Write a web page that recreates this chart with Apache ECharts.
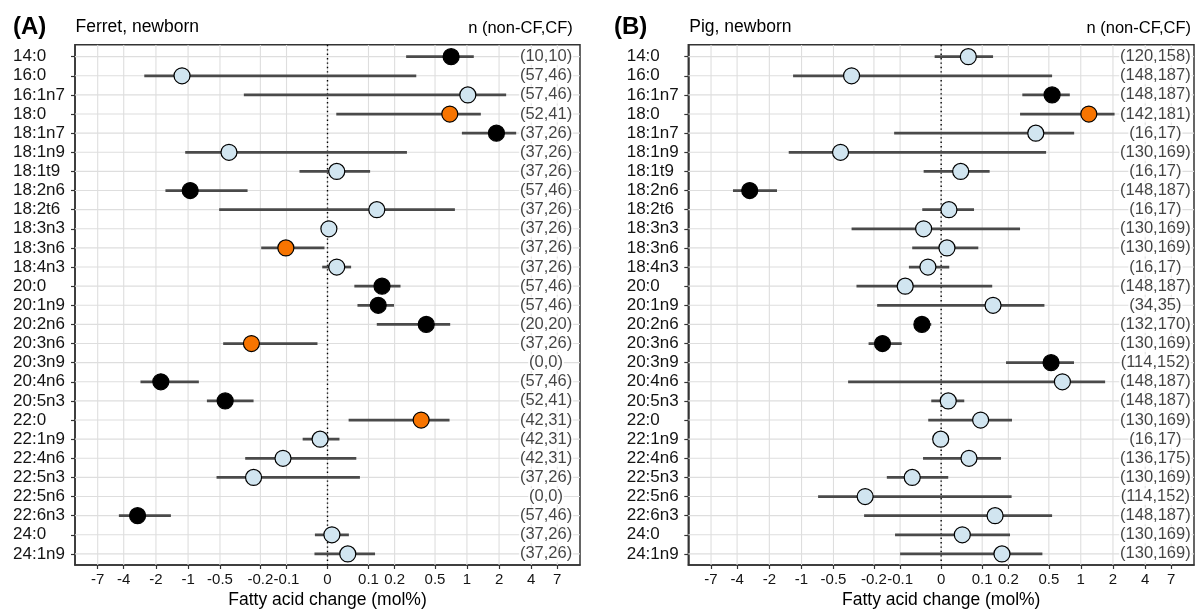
<!DOCTYPE html>
<html><head><meta charset="utf-8">
<script src="https://cdn.jsdelivr.net/npm/echarts@6/dist/echarts.min.js"></script>
<style>html,body{margin:0;padding:0;background:#fff}#c{width:1195px;height:609px}</style>
</head><body><div id="c"></div>
<script>
// ---------- data ----------
const categories = ['14:0','16:0','16:1n7','18:0','18:1n7','18:1n9','18:1t9','18:2n6','18:2t6','18:3n3','18:3n6','18:4n3','20:0','20:1n9','20:2n6','20:3n6','20:3n9','20:4n6','20:5n3','22:0','22:1n9','22:4n6','22:5n3','22:5n6','22:6n3','24:0','24:1n9'];
const tickLabels = [-7,-4,-2,-1,-0.5,-0.2,-0.1,0,0.1,0.2,0.5,1,2,4,7];

const ferretMean = [0.71,-1.14,1.02,0.69,1.89,-0.41,0.020,-0.955,0.127,0.003,-0.102,0.020,0.146,0.132,0.412,-0.247,null,-1.80,-0.446,0.368,-0.016,-0.111,-0.235,null,-2.97,0.0095,0.045];
const ferretLow  = [0.262,-2.57,-0.294,0.019,0.897,-1.064,-0.064,-1.63,-0.509,0.0,-0.196,-0.0114,0.061,0.069,0.127,-0.466,null,-2.79,-0.665,0.047,-0.056,-0.285,-0.539,null,-4.44,-0.0274,-0.0284];
const ferretHigh = [1.16,0.330,2.33,1.35,2.89,0.267,0.105,-0.270,0.771,0.006,-0.0065,0.053,0.230,0.197,0.696,-0.0217,null,-0.792,-0.235,0.686,0.026,0.066,0.0755,null,-1.449,0.0476,0.121];
const ferretGroup = ['k','b','b','o','k','b','b','k','b','b','o','b','k','k','k','o',null,'k','k','o','b','b','b',null,'k','b','b'];
const ferretN = ['(10,10)','(57,46)','(57,46)','(52,41)','(37,26)','(37,26)','(37,26)','(57,46)','(37,26)','(37,26)','(37,26)','(37,26)','(57,46)','(57,46)','(20,20)','(37,26)','(0,0)','(57,46)','(52,41)','(42,31)','(42,31)','(42,31)','(37,26)','(0,0)','(57,46)','(37,26)','(37,26)'];

const pigMean = [0.0617,-0.335,0.537,1.19,0.375,-0.428,0.0432,-3.05,0.0168,-0.0385,0.0125,-0.0288,-0.0851,0.136,-0.0425,-0.162,0.525,0.672,0.0153,0.0953,-0.001,0.0634,-0.0662,-0.246,0.1435,0.047,0.171];
const pigLow  = [-0.014,-1.20,0.277,0.263,-0.119,-1.318,-0.0385,-4.37,-0.0417,-0.335,-0.0662,-0.0749,-0.30,-0.185,-0.0619,-0.227,0.189,-0.362,-0.0214,-0.0281,-0.0149,-0.0399,-0.145,-0.699,-0.252,-0.116,-0.100];
const pigHigh = [0.136,0.537,0.789,2.07,0.867,0.471,0.124,-1.696,0.0766,0.263,0.0885,0.0175,0.133,0.454,-0.0214,-0.0953,0.864,1.69,0.0517,0.218,0.0131,0.167,0.0153,0.216,0.537,0.208,0.434];
const pigGroup = ['b','b','k','o','b','b','b','k','b','b','b','b','b','b','k','k','k','b','b','b','b','b','b','b','b','b','b'];
const pigN = ['(120,158)','(148,187)','(148,187)','(142,181)','(16,17)','(130,169)','(16,17)','(148,187)','(16,17)','(130,169)','(130,169)','(16,17)','(148,187)','(34,35)','(132,170)','(130,169)','(114,152)','(148,187)','(148,187)','(130,169)','(16,17)','(136,175)','(130,169)','(114,152)','(148,187)','(130,169)','(130,169)'];

// ---------- style / layout ----------
const FONT = "'Liberation Sans', Arial, Helvetica, sans-serif";
const TXT = '#141414';
const GRIDC = '#dedede';
const groupColor = {k:'#000000', o:'#F77400', b:'#D1E5F0'};
const tr = v => Math.asinh(v * 10);   // pseudo-log (asinh) axis transform
const XLIM = 5.43;

const panels = [
  {mean:ferretMean, low:ferretLow, high:ferretHigh, group:ferretGroup, n:ferretN, left:75, width:505, labelX:4.70, margin:62},
  {mean:pigMean, low:pigLow, high:pigHigh, group:pigGroup, n:pigN, left:688.3, width:505.7, labelX:4.60, margin:61.6}
];

const grids = [], xAxes = [], yAxes = [], series = [];
const tickVals = tickLabels.map(tr);
const catIdx = categories.map((c,i)=>i);
const fmtTick = v => {
  for (let i = 0; i < tickVals.length; i++) if (Math.abs(tickVals[i] - v) < 1e-6) return String(tickLabels[i]);
  return '';
};

panels.forEach((p, gi) => {
  grids.push({left:p.left, width:p.width, top:44.8, height:520.2, show:true, borderColor:'#333', borderWidth:1.5, backgroundColor:'#fff', containLabel:false});
  xAxes.push({
    type:'value', gridIndex:gi, min:-XLIM, max:XLIM,
    axisLine:{show:true, onZero:false, lineStyle:{color:'#333', width:1.5}},
    axisTick:{show:true, length:4, customValues:tickVals, lineStyle:{color:'#333', width:1.2}},
    axisLabel:{show:true, customValues:tickVals, formatter:fmtTick, margin:7, fontSize:15, color:TXT, fontFamily:FONT},
    splitLine:{show:false}
  });
  yAxes.push({
    type:'value', gridIndex:gi, min:-0.62, max:categories.length - 0.42, inverse:true,
    axisLine:{show:true, onZero:false, lineStyle:{color:'#333', width:1.5}},
    axisTick:{show:true, length:4, customValues:catIdx, lineStyle:{color:'#333', width:1.2}},
    axisLabel:{show:true, customValues:catIdx, formatter:v => categories[Math.round(v)] || '', align:'left', margin:p.margin, fontSize:17, color:TXT, fontFamily:FONT},
    splitLine:{show:false}
  });
  // vertical grid lines at ticks
  series.push({
    type:'custom', xAxisIndex:gi, yAxisIndex:gi, silent:true, z:1, clip:true,
    encode:{x:0},
    data: tickVals.map(v => [v]),
    renderItem:(params, api) => {
      const cs = params.coordSys;
      const x = api.coord([api.value(0), 0])[0];
      return {type:'line', shape:{x1:x, y1:cs.y, x2:x, y2:cs.y + cs.height}, style:{stroke:GRIDC, lineWidth:1.1}};
    }
  });
  // horizontal grid lines at categories
  series.push({
    type:'custom', xAxisIndex:gi, yAxisIndex:gi, silent:true, z:1, clip:true,
    encode:{y:0},
    data: catIdx.map(i => [i]),
    renderItem:(params, api) => {
      const cs = params.coordSys;
      const y = api.coord([0, api.value(0)])[1];
      return {type:'line', shape:{x1:cs.x, y1:y, x2:cs.x + cs.width, y2:y}, style:{stroke:GRIDC, lineWidth:1.1}};
    }
  });
  // n labels
  series.push({
    type:'scatter', xAxisIndex:gi, yAxisIndex:gi, symbolSize:0, silent:true, z:3,
    data: p.n.map((t,i) => [p.labelX, i, t]),
    label:{show:true, position:'inside', formatter:q => q.data[2], fontSize:16.5, color:TXT, fontFamily:FONT, backgroundColor:'#fff', padding:[0,1]}
  });
  // zero reference line (dotted)
  series.push({
    type:'custom', xAxisIndex:gi, yAxisIndex:gi, silent:true, z:4,
    encode:{x:0},
    data:[[0]],
    renderItem:(params, api) => {
      const cs = params.coordSys;
      const x = api.coord([api.value(0), 0])[0];
      return {type:'line', shape:{x1:x, y1:cs.y, x2:x, y2:cs.y + cs.height}, style:{stroke:'#000', lineWidth:1.4, lineDash:[1.4,3]}};
    }
  });
  // error bars
  const bars = [];
  p.mean.forEach((m,i) => { if (m !== null && p.low[i] !== null) bars.push([tr(p.low[i]), tr(p.high[i]), i]); });
  series.push({
    type:'custom', xAxisIndex:gi, yAxisIndex:gi, z:5, silent:true,
    encode:{x:[0,1], y:2},
    data: bars,
    renderItem:(params, api) => {
      const a = api.coord([api.value(0), api.value(2)]);
      const b = api.coord([api.value(1), api.value(2)]);
      return {type:'line', shape:{x1:a[0], y1:a[1], x2:b[0], y2:b[1]}, style:{stroke:'#4a4a4a', lineWidth:2.7}};
    }
  });
  // points
  const pts = [];
  p.mean.forEach((m,i) => { if (m !== null) pts.push({value:[tr(m), i], itemStyle:{color:groupColor[p.group[i]]}}); });
  series.push({
    type:'scatter', xAxisIndex:gi, yAxisIndex:gi, z:6, silent:true, symbol:'circle', symbolSize:16,
    itemStyle:{borderColor:'#000', borderWidth:1.2, opacity:1},
    data: pts
  });
});

const txt = (x, y, text, size, align, bold) => ({
  type:'text', x, y, silent:true, z:100,
  style:{text, fill:'#000', font:(bold?'bold ':'') + size + 'px ' + FONT, textAlign:align, textVerticalAlign:'middle'}
});

const chart = echarts.init(document.getElementById('c'), null, {renderer:'canvas'});
chart.setOption({
  animation:false,
  backgroundColor:'#fff',
  grid:grids, xAxis:xAxes, yAxis:yAxes, series,
  graphic:[
    txt(13, 27, '(A)', 24, 'left', true),
    txt(75.5, 27, 'Ferret, newborn', 17.5, 'left'),
    txt(572.7, 28, 'n (non-CF,CF)', 16.5, 'right'),
    txt(327.5, 600, 'Fatty acid change (mol%)', 17.5, 'center'),
    txt(614, 27, '(B)', 24, 'left', true),
    txt(689.3, 27, 'Pig, newborn', 17.5, 'left'),
    txt(1191, 28, 'n (non-CF,CF)', 16.5, 'right'),
    txt(941.2, 600, 'Fatty acid change (mol%)', 17.5, 'center')
  ]
});
</script></body></html>
